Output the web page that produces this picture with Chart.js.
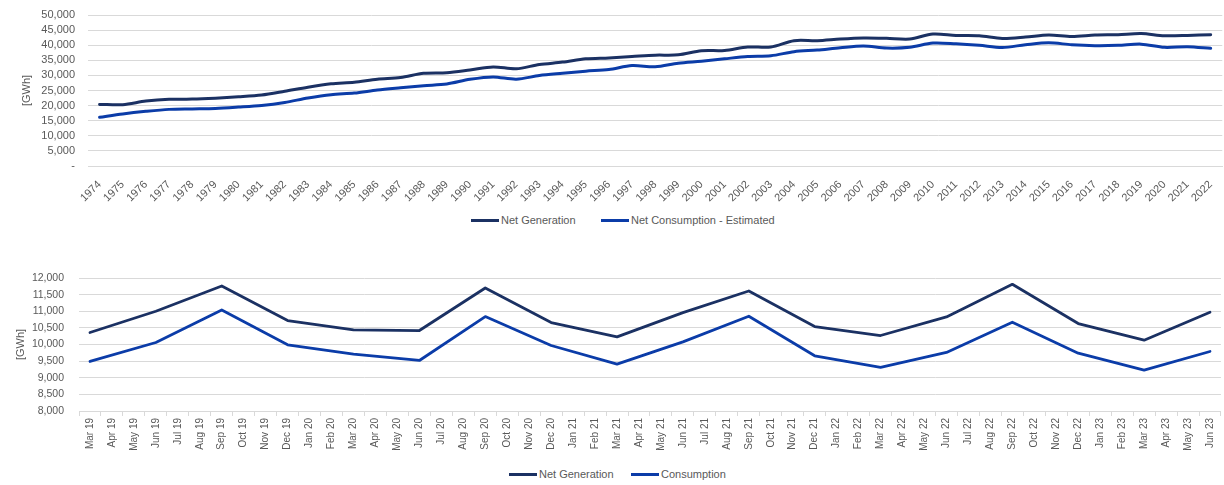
<!DOCTYPE html>
<html>
<head>
<meta charset="utf-8">
<script src="https://cdn.jsdelivr.net/npm/chart.js@4.4.0/dist/chart.umd.min.js"></script>
<style>
  body { margin: 0; background: #fff; width: 1224px; height: 485px; overflow: hidden; position: relative;
         font-family: "Liberation Sans", Arial, sans-serif; }
  canvas { position: absolute; left: 0; }
  #yearly { top: 0; }
  #monthly { top: 232px; }
  .item { position: absolute; height: 14px; line-height: 14px; font-size: 11px; color: #595959;
          display: flex; align-items: center; white-space: nowrap; }
  .item .sw { display: inline-block; width: 28px; height: 3px; margin-right: 2px; }
</style>
</head>
<body>
<canvas id="yearly" width="1224" height="210"></canvas>
<canvas id="monthly" width="1224" height="230"></canvas>
<div id="legendTop"></div>
<div id="legendBottom"></div>
<script>
"use strict";

const GEN_COLOR = "#1b3163";
const CONS_COLOR = "#0b3ca8";
const GRID = "#d9d9d9";
const TEXT = "#595959";

const years = [
  "1974", "1975", "1976", "1977", "1978", "1979", "1980", "1981", "1982", "1983",
  "1984", "1985", "1986", "1987", "1988", "1989", "1990", "1991", "1992", "1993",
  "1994", "1995", "1996", "1997", "1998", "1999", "2000", "2001", "2002", "2003",
  "2004", "2005", "2006", "2007", "2008", "2009", "2010", "2011", "2012", "2013",
  "2014", "2015", "2016", "2017", "2018", "2019", "2020", "2021", "2022",
];
const netGenerationYearly = [
  20400, 20300, 21500, 22100, 22150, 22450, 22900, 23500, 24750, 26100,
  27200, 27750, 28750, 29300, 30700, 30900, 31800, 32800, 32200, 33600,
  34400, 35500, 35800, 36250, 36700, 36800, 38150, 38250, 39400, 39400,
  41500, 41500, 42050, 42400, 42300, 42050, 43700, 43250, 43150, 42250,
  42700, 43400, 42900, 43350, 43500, 43850, 43150, 43250, 43500,
];
const netConsumptionYearly = [
  16150, 17250, 18100, 18750, 18900, 19050, 19500, 20050, 21050, 22500,
  23600, 24150, 25150, 25900, 26600, 27150, 28700, 29500, 28750, 29950,
  30700, 31400, 31950, 33250, 32850, 34050, 34700, 35500, 36250, 36500,
  37850, 38400, 39150, 39700, 39050, 39300, 40700, 40450, 39950, 39250,
  40150, 40800, 40150, 39850, 39950, 40350, 39300, 39500, 38950,
];

const months = [
  "Mar 19", "Apr 19", "May 19", "Jun 19", "Jul 19", "Aug 19", "Sep 19", "Oct 19", "Nov 19", "Dec 19",
  "Jan 20", "Feb 20", "Mar 20", "Apr 20", "May 20", "Jun 20", "Jul 20", "Aug 20", "Sep 20", "Oct 20",
  "Nov 20", "Dec 20", "Jan 21", "Feb 21", "Mar 21", "Apr 21", "May 21", "Jun 21", "Jul 21", "Aug 21",
  "Sep 21", "Oct 21", "Nov 21", "Dec 21", "Jan 22", "Feb 22", "Mar 22", "Apr 22", "May 22", "Jun 22",
  "Jul 22", "Aug 22", "Sep 22", "Oct 22", "Nov 22", "Dec 22", "Jan 23", "Feb 23", "Mar 23", "Apr 23",
  "May 23", "Jun 23",
];
// values are only reported at quarter ends
const quarters = [
  "Mar 19", "Jun 19", "Sep 19", "Dec 19", "Mar 20", "Jun 20", "Sep 20", "Dec 20", "Mar 21",
  "Jun 21", "Sep 21", "Dec 21", "Mar 22", "Jun 22", "Sep 22", "Dec 22", "Mar 23", "Jun 23",
];
const netGenerationQuarterly = [
  10360, 11000, 11760, 10720, 10440, 10420, 11700, 10660, 10230,
  10960, 11610, 10540, 10270, 10830, 11810, 10630, 10130, 10970,
];
const consumptionQuarterly = [
  9490, 10060, 11040, 9990, 9710, 9520, 10840, 9970, 9410,
  10080, 10850, 9660, 9310, 9760, 10670, 9740, 9230, 9790,
];

const fmt = (v) => (v === 0 ? "-" : Number(v).toLocaleString("en-US"));
const byQuarter = (values) => quarters.map((q, i) => ({ x: q, y: values[i] }));

function lineSet(label, data, color, width, tension) {
  return {
    label: label,
    data: data,
    borderColor: color,
    backgroundColor: color,
    borderWidth: width,
    pointRadius: 0,
    tension: tension,
    borderJoinStyle: "round",
    borderCapStyle: "round",
    fill: false,
  };
}

// fixed y-axis width; the tick padding shouldn't push the plot area down
const fixY = (width) => (s) => {
  s.width = width;
  s.paddingTop = 0;
  s.paddingBottom = 0;
};

const yearlyChart = new Chart(document.getElementById("yearly"), {
  type: "line",
  data: {
    labels: years,
    datasets: [
      lineSet("Net Generation", netGenerationYearly, GEN_COLOR, 3, 0.3),
      lineSet("Net Consumption - Estimated", netConsumptionYearly, CONS_COLOR, 3, 0.3),
    ],
  },
  options: {
    responsive: false,
    animation: false,
    layout: { padding: { top: 15, right: 0, left: 0, bottom: 0 } },
    plugins: { legend: { display: false }, tooltip: { enabled: false } },
    scales: {
      x: {
        offset: true,
        grid: { display: false },
        border: { color: GRID },
        ticks: {
          color: TEXT, font: { family: "Liberation Sans", size: 11 },
          autoSkip: false, minRotation: 45, maxRotation: 45, padding: 4,
        },
        afterFit: (s) => { s.height = 44; },
      },
      y: {
        min: 0, max: 50000,
        grid: { color: GRID, drawTicks: false },
        border: { display: false },
        ticks: {
          stepSize: 5000, autoSkip: false, color: TEXT, padding: 13,
          font: { family: "Liberation Sans", size: 11 }, callback: fmt,
        },
        title: {
          display: true, text: "[GWh]", color: TEXT,
          font: { family: "Liberation Sans", size: 11 }, padding: { top: 20 },
        },
        afterFit: fixY(88),
      },
    },
  },
});

const monthlyChart = new Chart(document.getElementById("monthly"), {
  type: "line",
  data: {
    labels: months,
    datasets: [
      lineSet("Net Generation", byQuarter(netGenerationQuarterly), GEN_COLOR, 2.8, 0),
      lineSet("Consumption", byQuarter(consumptionQuarterly), CONS_COLOR, 2.8, 0),
    ],
  },
  options: {
    responsive: false,
    animation: false,
    layout: { padding: { top: 46, right: 1, left: 0, bottom: 0 } },
    plugins: { legend: { display: false }, tooltip: { enabled: false } },
    scales: {
      x: {
        offset: true,
        grid: { offset: true, drawOnChartArea: false, drawTicks: true, tickLength: 5, color: GRID },
        border: { color: GRID },
        ticks: {
          color: TEXT, font: { family: "Liberation Sans", size: 10 },
          autoSkip: false, minRotation: 90, maxRotation: 90, padding: 2,
        },
        afterFit: (s) => { s.height = 51; },
      },
      y: {
        min: 8000, max: 12000,
        grid: { color: GRID, drawTicks: false },
        border: { display: false },
        ticks: {
          stepSize: 500, autoSkip: false, color: TEXT, padding: 15,
          font: { family: "Liberation Sans", size: 10.5 }, callback: fmt,
        },
        title: {
          display: true, text: "[GWh]", color: TEXT,
          font: { family: "Liberation Sans", size: 11 }, padding: { top: 14 },
        },
        afterFit: fixY(79),
      },
    },
  },
});

// legends: Excel spaces its entries more widely than Chart.js does
function buildLegend(id, chart, lefts, centerY) {
  const box = document.getElementById(id);
  chart.data.datasets.forEach((ds, i) => {
    const item = document.createElement("div");
    item.className = "item";
    item.style.left = lefts[i] + "px";
    item.style.top = centerY - 7 + "px";
    item.innerHTML = `<span class="sw" style="background:${ds.borderColor}"></span>${ds.label}`;
    box.appendChild(item);
  });
}
buildLegend("legendTop", yearlyChart, [471, 601], 220);
buildLegend("legendBottom", monthlyChart, [509, 631], 474);
</script>
</body>
</html>
